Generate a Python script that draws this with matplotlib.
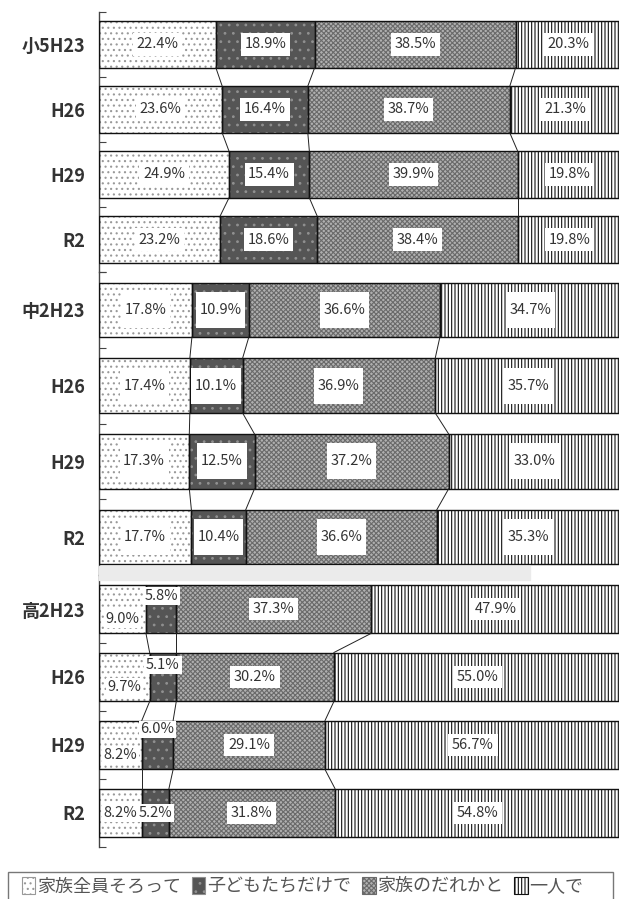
import numpy as np
import matplotlib
matplotlib.use("Agg")
import matplotlib.pyplot as plt
from matplotlib.patches import Patch, Rectangle
from matplotlib.path import Path

plt.rcParams['font.family'] = ['Noto Sans CJK JP', 'DejaVu Sans']
plt.rcParams['hatch.linewidth'] = 0.8

# 夕食を誰と食べるか（学年・調査年別, %）
series_names = ['家族全員そろって', '子どもたちだけで', '家族のだれかと', '一人で']
row_labels = ['小5H23', 'H26', 'H29', 'R2',
              '中2H23', 'H26', 'H29', 'R2',
              '高2H23', 'H26', 'H29', 'R2']
together = [22.4, 23.6, 24.9, 23.2, 17.8, 17.4, 17.3, 17.7, 9.0, 9.7, 8.2, 8.2]
children_only = [18.9, 16.4, 15.4, 18.6, 10.9, 10.1, 12.5, 10.4, 5.8, 5.1, 6.0, 5.2]
with_someone = [38.5, 38.7, 39.9, 38.4, 36.6, 36.9, 37.2, 36.6, 37.3, 30.2, 29.1, 31.8]
alone = [20.3, 21.3, 19.8, 19.8, 34.7, 35.7, 33.0, 35.3, 47.9, 55.0, 56.7, 54.8]

# fill styles: (face, hatch, hatch colour)
styles = [
    ('white', '...', '#999999'),
    ('#555555', '..', '#909090'),
    ('#b0b0b0', 'xxxxxxx', '#6a6a6a'),
    ('white', '|||||', '#111111'),
]

W, H = 619, 899
fig = plt.figure(figsize=(W / 100, H / 100), dpi=100)

# three stacked panels (小5 / 中2 / 高2), pixel extents top->bottom
panel_px = [(12, 272), (272, 575), (575, 847)]
bar_h = 0.72

# small-segment label shifts for the 高2 panel: (first, second)
small_shift = [(0.15, -0.19), (0.15, -0.18), (0.15, -0.23), (0.0, 0.0)]


def label_box(padx, pady):
    def box(x0, y0, width, height, mutation_size):
        px, py = padx * mutation_size, pady * mutation_size
        xa, ya = x0 - px, y0 - py
        xb, yb = x0 + width + px, y0 + height + py
        return Path([(xa, ya), (xb, ya), (xb, yb), (xa, yb), (xa, ya)],
                    closed=True)
    return box


values = np.array([together, children_only, with_someone, alone]).T
box_pads = [(0.25, 0.3), (0.25, 0.75), (0.25, 0.3)]

# faint grey strip beneath the 中2 panel
fig.patches.append(Rectangle((99 / W, 1 - 580 / H), (530 - 99) / W, 14 / H,
                             transform=fig.transFigure, color='#ebebeb',
                             zorder=0))

for g, (top, bot) in enumerate(panel_px):
    ax = fig.add_axes([99 / W, 1 - bot / H, 522 / W, (bot - top) / H])
    ax.set_facecolor('none')
    rows = list(range(4 * g, 4 * g + 4))
    vals = values[rows]
    cum = np.hstack([np.zeros((4, 1)), np.cumsum(vals, axis=1)])
    ypos = np.arange(4)

    for s in range(4):
        face, hatch, hc = styles[s]
        ax.barh(ypos, vals[:, s], left=cum[:, s], height=bar_h,
                color=face, hatch=hatch, edgecolor=hc, linewidth=0, zorder=2)
        ax.barh(ypos, vals[:, s], left=cum[:, s], height=bar_h,
                fill=False, edgecolor='#111111', linewidth=1.0, zorder=3)

    # connectors between consecutive bars
    for k in range(1, 4):
        for i in range(3):
            ax.plot([cum[i, k], cum[i + 1, k]],
                    [i + bar_h / 2, i + 1 - bar_h / 2],
                    color='#222222', lw=0.7, zorder=3)

    padx, pady = box_pads[g]
    for i in range(4):
        for s in range(4):
            x = cum[i, s] + vals[i, s] / 2
            y = i
            bp = dict(boxstyle=label_box(padx, pady), fc='white', ec='none')
            if g == 2 and s < 2:
                y = i + small_shift[i][s]
                bp = dict(boxstyle=label_box(0.12, 0.12), fc='white', ec='none')
            ax.text(x, y, f'{vals[i, s]:.1f}%', ha='center', va='center',
                    fontsize=10.5, color='#333333', bbox=bp, zorder=5)

    ax.set_xlim(0, 100)
    ax.set_ylim(3.5, -0.5)
    ax.set_yticks(ypos)
    ax.set_yticklabels([row_labels[r] for r in rows])
    ax.set_yticks(np.arange(-0.5, 4.0, 1.0), minor=True)
    ax.tick_params(axis='y', which='major', length=0, pad=10,
                   labelsize=13, labelcolor='#333333')
    for t in ax.get_yticklabels():
        t.set_fontweight('bold')
    ax.tick_params(axis='y', which='minor', direction='in', length=5,
                   width=0.8, color='#444444')
    ax.xaxis.set_visible(False)
    for side in ('top', 'right', 'bottom'):
        ax.spines[side].set_visible(False)
    ax.spines['left'].set_color('#444444')
    ax.spines['left'].set_linewidth(1.0)

# legend frame spanning the figure width, legend entries left-aligned inside
fig.patches.append(Rectangle((8 / W, -2 / H), 605 / W, (899 - 872 + 2) / H,
                             transform=fig.transFigure, fill=False,
                             edgecolor='#777777', linewidth=1.0, zorder=1))
handles = [Patch(facecolor=f, hatch=h, edgecolor=c, linewidth=0.8)
           for f, h, c in styles]
leg = fig.legend(handles, series_names, loc='center left',
                 bbox_to_anchor=(18 / W, 1 - 886 / H), ncol=4, frameon=False,
                 fontsize=13, handlelength=0.75, handleheight=1.1,
                 handletextpad=0.1, borderpad=0.2, borderaxespad=0,
                 columnspacing=0.6)
for t in leg.get_texts():
    t.set_color('#555555')

fig.savefig('out.png', dpi=100)
